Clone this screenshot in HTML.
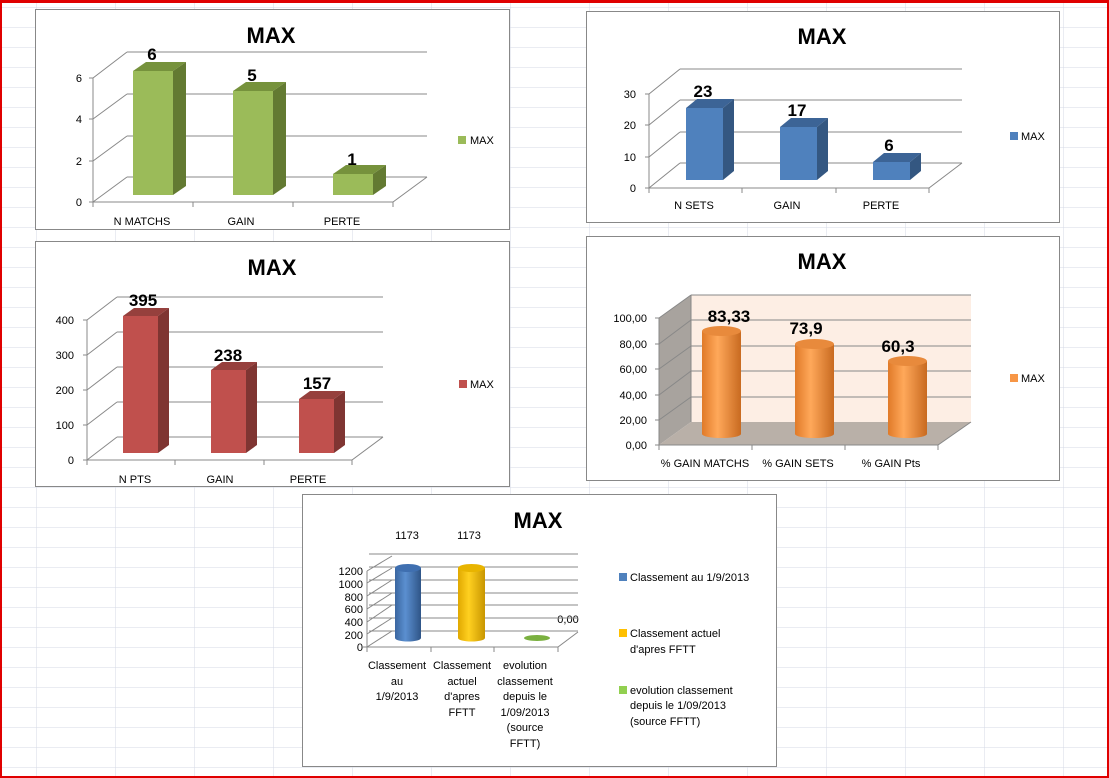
<!DOCTYPE html>
<html><head><meta charset="utf-8"><style>html,body{margin:0;padding:0;background:#fff}svg{display:block}</style></head><body>
<svg width="1109" height="778" viewBox="0 0 1109 778" xmlns="http://www.w3.org/2000/svg" font-family="Liberation Sans, sans-serif">
<defs>
<pattern id="grid" width="79" height="20" patternUnits="userSpaceOnUse" x="36" y="7">
<path d="M0 0V20M0 0H79" stroke="#d4dae6" stroke-width="1" fill="none"/>
</pattern>
<linearGradient id="cylB" x1="0" x2="1"><stop offset="0" stop-color="#3a66a0"/><stop offset="0.4" stop-color="#5b8fd0"/><stop offset="1" stop-color="#2f5587"/></linearGradient>
<linearGradient id="cylY" x1="0" x2="1"><stop offset="0" stop-color="#e0a800"/><stop offset="0.4" stop-color="#ffd020"/><stop offset="1" stop-color="#c89600"/></linearGradient>
<linearGradient id="cylO" x1="0" x2="1"><stop offset="0" stop-color="#e07a28"/><stop offset="0.4" stop-color="#ffa85a"/><stop offset="1" stop-color="#c86a20"/></linearGradient>
</defs>
<rect width="1109" height="778" fill="#fff"/>
<rect width="1109" height="778" fill="url(#grid)"/>
<rect x="0" y="0" width="1109" height="3" fill="#e00000"/>
<rect x="0" y="0" width="2" height="778" fill="#e00000"/>
<rect x="1107" y="0" width="2" height="778" fill="#e00000"/>
<rect x="0" y="776" width="1109" height="2" fill="#e00000"/>

<!-- Chart 1 green -->
<rect x="35.5" y="9.5" width="474" height="220" fill="#fff" stroke="#888"/>
<text x="271" y="43" font-size="22" font-weight="bold" text-anchor="middle">MAX</text>
<g stroke="#888" fill="none" stroke-width="1">
<path d="M127 52H427M127 94H427M127 136H427M127 177H427"/>
<path d="M93 78L127 52M93 119L127 94M93 161L127 136M93 202L127 177M93 78V202H393L427 177"/>
<path d="M89 78H93M89 119H93M89 161H93M89 202H93M93 202v5M193 202v5M293 202v5M393 202v5"/>
</g>
<g font-size="11" text-anchor="end"><text x="82" y="82">6</text><text x="82" y="123">4</text><text x="82" y="165">2</text><text x="82" y="206">0</text></g>
<g>
<rect x="133" y="71" width="40" height="124" fill="#9bbb59"/><path d="M133 71L146 62H186L173 71Z" fill="#76923c"/><path d="M173 71L186 62V186L173 195Z" fill="#637a32"/>
<rect x="233" y="91" width="40" height="104" fill="#9bbb59"/><path d="M233 91L246 82H286L273 91Z" fill="#76923c"/><path d="M273 91L286 82V186L273 195Z" fill="#637a32"/>
<rect x="333" y="174" width="40" height="21" fill="#9bbb59"/><path d="M333 174L346 165H386L373 174Z" fill="#76923c"/><path d="M373 174L386 165V186L373 195Z" fill="#637a32"/>
</g>
<g font-size="17" font-weight="bold" text-anchor="middle"><text x="152" y="60">6</text><text x="252" y="81">5</text><text x="352" y="165">1</text></g>
<g font-size="11" text-anchor="middle"><text x="142" y="225">N MATCHS</text><text x="241" y="225">GAIN</text><text x="342" y="225">PERTE</text></g>
<rect x="458" y="136" width="8" height="8" fill="#9bbb59"/><text x="470" y="144" font-size="11">MAX</text>

<!-- Chart 2 blue -->
<rect x="586.5" y="11.5" width="473" height="211" fill="#fff" stroke="#888"/>
<text x="822" y="44" font-size="22" font-weight="bold" text-anchor="middle">MAX</text>
<g stroke="#888" fill="none">
<path d="M680 69H962M680 100H962M680 132H962M680 163H962"/>
<path d="M649 94L680 69M649 125L680 100M649 157L680 132M649 188L680 163M649 94V188H929L962 163"/>
<path d="M645 94H649M645 125H649M645 157H649M645 188H649M649 188v5M742 188v5M836 188v5M929 188v5"/>
</g>
<g font-size="11" text-anchor="end"><text x="636" y="98">30</text><text x="636" y="129">20</text><text x="636" y="161">10</text><text x="636" y="192">0</text></g>
<rect x="686" y="108" width="37" height="72" fill="#4f81bd"/><path d="M686 108L697 99H734L723 108Z" fill="#3c6496"/><path d="M723 108L734 99V171L723 180Z" fill="#345781"/>
<rect x="780" y="127" width="37" height="53" fill="#4f81bd"/><path d="M780 127L791 118H828L817 127Z" fill="#3c6496"/><path d="M817 127L828 118V171L817 180Z" fill="#345781"/>
<rect x="873" y="162" width="37" height="18" fill="#4f81bd"/><path d="M873 162L884 153H921L910 162Z" fill="#3c6496"/><path d="M910 162L921 153V171L910 180Z" fill="#345781"/>
<g font-size="17" font-weight="bold" text-anchor="middle"><text x="703" y="97">23</text><text x="797" y="116">17</text><text x="889" y="151">6</text></g>
<g font-size="11" text-anchor="middle"><text x="694" y="209">N SETS</text><text x="787" y="209">GAIN</text><text x="881" y="209">PERTE</text></g>
<rect x="1010" y="132" width="8" height="8" fill="#4f81bd"/><text x="1021" y="140" font-size="11">MAX</text>

<!-- Chart 3 red -->
<rect x="35.5" y="241.5" width="474" height="245" fill="#fff" stroke="#888"/>
<text x="272" y="275" font-size="22" font-weight="bold" text-anchor="middle">MAX</text>
<g stroke="#888" fill="none">
<path d="M117 297H383M117 332H383M117 367H383M117 402H383M117 437H383"/>
<path d="M87 320L117 297M87 355L117 332M87 390L117 367M87 425L117 402M87 460L117 437M87 320V460H352L383 437"/>
<path d="M83 320H87M83 355H87M83 390H87M83 425H87M83 460H87M87 460v5M175 460v5M264 460v5M352 460v5"/>
</g>
<g font-size="11" text-anchor="end"><text x="74" y="324">400</text><text x="74" y="359">300</text><text x="74" y="394">200</text><text x="74" y="429">100</text><text x="74" y="464">0</text></g>
<rect x="123" y="316" width="35" height="137" fill="#c0504d"/><path d="M123 316L134 308H169L158 316Z" fill="#96403d"/><path d="M158 316L169 308V445L158 453Z" fill="#7f3532"/>
<rect x="211" y="370" width="35" height="83" fill="#c0504d"/><path d="M211 370L222 362H257L246 370Z" fill="#96403d"/><path d="M246 370L257 362V445L246 453Z" fill="#7f3532"/>
<rect x="299" y="399" width="35" height="54" fill="#c0504d"/><path d="M299 399L310 391H345L334 399Z" fill="#96403d"/><path d="M334 399L345 391V445L334 453Z" fill="#7f3532"/>
<g font-size="17" font-weight="bold" text-anchor="middle"><text x="143" y="306">395</text><text x="228" y="361">238</text><text x="317" y="389">157</text></g>
<g font-size="11" text-anchor="middle"><text x="135" y="483">N PTS</text><text x="220" y="483">GAIN</text><text x="308" y="483">PERTE</text></g>
<rect x="459" y="380" width="8" height="8" fill="#c0504d"/><text x="470" y="388" font-size="11">MAX</text>

<!-- Chart 4 orange -->
<rect x="586.5" y="236.5" width="473" height="244" fill="#fff" stroke="#888"/>
<text x="822" y="269" font-size="22" font-weight="bold" text-anchor="middle">MAX</text>
<path d="M691 295H971V422H691Z" fill="#fdeee4"/>
<path d="M659 318L691 295V422L659 445Z" fill="#a8a39e"/>
<path d="M659 445L691 422H971L938 445Z" fill="#b9b0a8"/>
<g stroke="#888" fill="none">
<path d="M691 295H971M691 320H971M691 346H971M691 371H971M691 397H971M691 295V422"/>
<path d="M659 318L691 295M659 344L691 320M659 369L691 346M659 395L691 371M659 420L691 397M659 318V445H938L971 422"/>
<path d="M655 318H659M655 344H659M655 369H659M655 395H659M655 420H659M655 445H659M659 445v5M752 445v5M845 445v5M938 445v5"/>
</g>
<g font-size="11" text-anchor="end"><text x="647" y="322">100,00</text><text x="647" y="348">80,00</text><text x="647" y="373">60,00</text><text x="647" y="399">40,00</text><text x="647" y="424">20,00</text><text x="647" y="449">0,00</text></g>
<g>
<path d="M702 331V434A19.5 4 0 0 0 741 434V331Z" fill="url(#cylO)"/><ellipse cx="721.5" cy="331" rx="19.5" ry="5" fill="#e88a3c"/>
<path d="M795 344V434A19.5 4 0 0 0 834 434V344Z" fill="url(#cylO)"/><ellipse cx="814.5" cy="344" rx="19.5" ry="5" fill="#e88a3c"/>
<path d="M888 361V434A19.5 4 0 0 0 927 434V361Z" fill="url(#cylO)"/><ellipse cx="907.5" cy="361" rx="19.5" ry="5" fill="#e88a3c"/>
</g>
<g font-size="17" font-weight="bold" text-anchor="middle"><text x="729" y="322">83,33</text><text x="806" y="334">73,9</text><text x="898" y="352">60,3</text></g>
<g font-size="11" text-anchor="middle"><text x="705" y="467">% GAIN MATCHS</text><text x="798" y="467">% GAIN SETS</text><text x="891" y="467">% GAIN Pts</text></g>
<rect x="1010" y="374" width="8" height="8" fill="#f79646"/><text x="1021" y="382" font-size="11">MAX</text>

<!-- Chart 5 -->
<rect x="302.5" y="494.5" width="474" height="272" fill="#fff" stroke="#888"/>
<text x="538" y="528" font-size="22" font-weight="bold" text-anchor="middle">MAX</text>
<g font-size="11" text-anchor="middle"><text x="407" y="539">1173</text><text x="469" y="539">1173</text><text x="568" y="623">0,00</text></g>
<g stroke="#888" fill="none">
<path d="M369 554H578M369 567H578M369 580H578M369 593H578M369 605H578M369 618H578M369 631H578"/>
<path d="M366 570L369 554" stroke="none"/>
<path d="M367 571L392 556M367 583L392 568M367 596L392 580M367 609L392 593M367 622L392 605M367 634L392 618M367 647L392 631"/>
<path d="M367 571V647H558L578 632M363 647H367M367 647v5M431 647v5M494 647v5M558 647v5"/>
</g>
<g font-size="11" text-anchor="end"><text x="363" y="575">1200</text><text x="363" y="588">1000</text><text x="363" y="601">800</text><text x="363" y="613">600</text><text x="363" y="626">400</text><text x="363" y="639">200</text><text x="363" y="651">0</text></g>
<path d="M395 568V638A13 3.5 0 0 0 421 638V568Z" fill="url(#cylB)"/><ellipse cx="408" cy="568" rx="13" ry="4" fill="#3f6fb0"/>
<path d="M458 568V638A13.5 3.5 0 0 0 485 638V568Z" fill="url(#cylY)"/><ellipse cx="471.5" cy="568" rx="13.5" ry="4" fill="#e8b400"/>
<ellipse cx="537" cy="638" rx="13" ry="3" fill="#7ab040"/>
<g font-size="11" text-anchor="middle">
<text x="397" y="669">Classement</text><text x="397" y="685">au</text><text x="397" y="700">1/9/2013</text>
<text x="462" y="669">Classement</text><text x="462" y="685">actuel</text><text x="462" y="700">d'apres</text><text x="462" y="716">FFTT</text>
<text x="525" y="669">evolution</text><text x="525" y="685">classement</text><text x="525" y="700">depuis le</text><text x="525" y="716">1/09/2013</text><text x="525" y="731">(source</text><text x="525" y="747">FFTT)</text>
</g>
<g font-size="11">
<rect x="619" y="573" width="8" height="8" fill="#4f81bd"/><text x="630" y="581">Classement au  1/9/2013</text>
<rect x="619" y="629" width="8" height="8" fill="#ffc000"/><text x="630" y="637">Classement actuel</text><text x="630" y="653">d'apres FFTT</text>
<rect x="619" y="686" width="8" height="8" fill="#92d050"/><text x="630" y="694">evolution classement</text><text x="630" y="709">depuis le 1/09/2013</text><text x="630" y="725">(source FFTT)</text>
</g>
</svg>
</body></html>
